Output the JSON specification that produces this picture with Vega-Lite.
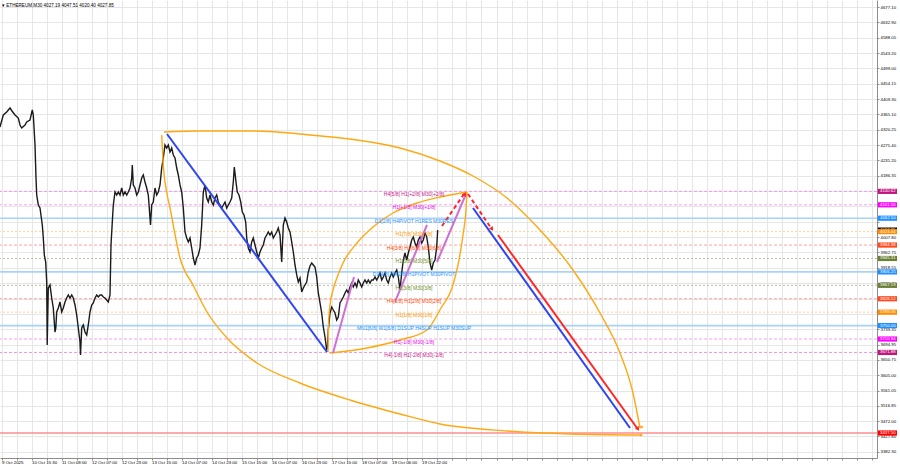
{
  "$schema": "https://vega.github.io/schema/vega-lite/v6.json",
  "width": 877,
  "height": 458,
  "autosize": {"type": "none"},
  "padding": {"left": 0, "top": 0, "right": 23, "bottom": 10},
  "background": "white",
  "config": {"view": {"stroke": null}, "font": "Liberation Sans"},
  "title": {"text": "▾ ETHEREUM,M30  4027.19 4047.51 4020.40 4027.85", "anchor": "start", "frame": "group", "orient": "top", "offset": -7.5, "baseline": "top", "fontSize": 4.6, "fontWeight": "normal", "font": "Liberation Sans", "color": "#000000", "dx": 2},
  "datasets": {
    "levels": [
      {"p": 4140.625, "g": "m2", "txt": "H4[5/8] H1[+2/8] M30[+2/8]"},
      {"p": 4101.5625, "g": "m1", "txt": "H1[+1/8] M30[+1/8]"},
      {"p": 4062.5, "g": "b", "txt": "D1[2/8] H4PIVOT H1RES M30RES"},
      {"p": 4023.4375, "g": "o", "txt": "H1[7/8] M30[7/8]"},
      {"p": 3984.375, "g": "s", "txt": "H4[3/8] H1[6/8] M30[6/8]"},
      {"p": 3945.3125, "g": "g", "txt": "H1[5/8] M30[5/8]"},
      {"p": 3906.25, "g": "b", "txt": "D1[4/8] H4[2/8] H1PIVOT M30PIVOT"},
      {"p": 3867.1875, "g": "g", "txt": "H1[3/8] M30[3/8]"},
      {"p": 3828.125, "g": "s", "txt": "H4[1/8] H1[2/8] M30[2/8]"},
      {"p": 3789.0625, "g": "o", "txt": "H1[1/8] M30[1/8]"},
      {"p": 3750, "g": "b", "txt": "MN1[6/8] W1[6/8] D1SUP H4SUP H1SUP M30SUP"},
      {"p": 3710.9375, "g": "m1", "txt": "H1[-1/8] M30[-1/8]"},
      {"p": 3671.875, "g": "m2", "txt": "H4[-1/8] H1[-2/8] M30[-2/8]"}
    ],
    "tags": [
      {"p": 4140.625, "lab": "4140.62", "g": "m2"},
      {"p": 4101.5625, "lab": "4101.56", "g": "m1"},
      {"p": 4062.5, "lab": "4062.50", "g": "b"},
      {"p": 4027.85, "lab": "4027.85", "g": "cur"},
      {"p": 4023.4375, "lab": "4023.44", "g": "o"},
      {"p": 3984.375, "lab": "3984.38", "g": "s"},
      {"p": 3945.3125, "lab": "3945.31", "g": "g"},
      {"p": 3906.25, "lab": "3906.25", "g": "b"},
      {"p": 3867.1875, "lab": "3867.19", "g": "g"},
      {"p": 3828.125, "lab": "3828.12", "g": "s"},
      {"p": 3789.0625, "lab": "3789.06", "g": "o"},
      {"p": 3750, "lab": "3750.00", "g": "b"},
      {"p": 3710.9375, "lab": "3710.94", "g": "m1"},
      {"p": 3671.875, "lab": "3671.88", "g": "m2"},
      {"p": 3437.5, "lab": "3437.50", "g": "t"}
    ],
    "price": [
      {"x":0,"p":4327.9},{"x":3.3,"p":4362.9},{"x":6.7,"p":4371.6},{"x":10,"p":4383.2},{"x":12,"p":4374.5},{"x":15,"p":4362.9},{"x":18.3,"p":4354.1},{"x":20,"p":4333.8},{"x":21.7,"p":4325.0},{"x":25,"p":4333.8},{"x":26.7,"p":4342.5},{"x":30,"p":4348.3},{"x":32.3,"p":4377.4},{"x":33.3,"p":4362.9},{"x":35,"p":4275.5},{"x":36,"p":4179.5},{"x":36.7,"p":4130.0},{"x":38.3,"p":4101.0},{"x":40,"p":4092.2},{"x":42.3,"p":4042.8},{"x":43.3,"p":4004.9},{"x":44.3,"p":3955.5},{"x":45.7,"p":3935.1},{"x":46.7,"p":3876.9},{"x":47.2,"p":3693.5},{"x":48.3,"p":3859.4},{"x":50,"p":3868.2},{"x":51.7,"p":3830.3},{"x":53.3,"p":3801.2},{"x":55,"p":3731.4},{"x":55.8,"p":3743.0},{"x":56.7,"p":3789.6},{"x":58.3,"p":3801.2},{"x":60,"p":3818.7},{"x":61.7,"p":3789.6},{"x":63.3,"p":3801.2},{"x":65,"p":3818.7},{"x":66.7,"p":3830.3},{"x":68.3,"p":3839.1},{"x":70,"p":3830.3},{"x":71.7,"p":3839.1},{"x":73.3,"p":3830.3},{"x":75,"p":3810.0},{"x":76.7,"p":3780.9},{"x":78.3,"p":3743.0},{"x":80,"p":3702.3},{"x":80.5,"p":3664.4},{"x":81.7,"p":3743.0},{"x":83.3,"p":3751.8},{"x":85,"p":3731.4},{"x":86.7,"p":3722.7},{"x":88.3,"p":3751.8},{"x":90,"p":3789.6},{"x":91.7,"p":3810.0},{"x":93.3,"p":3815.8},{"x":95,"p":3830.3},{"x":96.7,"p":3839.1},{"x":98.3,"p":3833.2},{"x":100,"p":3839.1},{"x":101.7,"p":3839.1},{"x":103.3,"p":3833.2},{"x":105,"p":3830.3},{"x":106.7,"p":3824.5},{"x":108.3,"p":3818.7},{"x":110,"p":3839.1},{"x":111,"p":3984.5},{"x":112.3,"p":4051.5},{"x":113.3,"p":4101.0},{"x":115,"p":4138.8},{"x":116.7,"p":4130.0},{"x":118.3,"p":4138.8},{"x":120,"p":4130.0},{"x":121.7,"p":4150.4},{"x":123.3,"p":4130.0},{"x":125,"p":4138.8},{"x":126.7,"p":4130.0},{"x":128.3,"p":4138.8},{"x":130,"p":4150.4},{"x":131.7,"p":4179.5},{"x":132.3,"p":4217.4},{"x":133.3,"p":4159.2},{"x":135,"p":4150.4},{"x":136.7,"p":4130.0},{"x":138.3,"p":4138.8},{"x":140,"p":4159.2},{"x":141.7,"p":4179.5},{"x":143.3,"p":4188.3},{"x":145,"p":4167.9},{"x":146.7,"p":4150.4},{"x":148.3,"p":4130.0},{"x":150,"p":4063.1},{"x":150.5,"p":4042.8},{"x":151.7,"p":4101.0},{"x":153.3,"p":4109.7},{"x":155,"p":4150.4},{"x":156.7,"p":4130.0},{"x":158.3,"p":4138.8},{"x":160,"p":4159.2},{"x":161.7,"p":4208.6},{"x":163.3,"p":4237.7},{"x":165,"p":4275.5},{"x":166.7,"p":4266.8},{"x":168.3,"p":4275.5},{"x":170,"p":4255.2},{"x":171.7,"p":4266.8},{"x":173.3,"p":4246.5},{"x":175,"p":4237.7},{"x":176.7,"p":4208.6},{"x":178.3,"p":4188.3},{"x":180,"p":4159.2},{"x":181.7,"p":4138.8},{"x":183.3,"p":4092.2},{"x":185,"p":4022.4},{"x":186.7,"p":4004.9},{"x":188.3,"p":3993.3},{"x":190,"p":4004.9},{"x":191.7,"p":3975.8},{"x":193.3,"p":3946.7},{"x":195,"p":3926.4},{"x":196.7,"p":3946.7},{"x":198.3,"p":3955.5},{"x":200,"p":3975.8},{"x":201.7,"p":4042.8},{"x":203.3,"p":4138.8},{"x":205,"p":4159.2},{"x":206.7,"p":4121.3},{"x":208.3,"p":4109.7},{"x":210,"p":4130.0},{"x":211.7,"p":4109.7},{"x":213.3,"p":4101.0},{"x":215,"p":4121.3},{"x":216.7,"p":4130.0},{"x":218.3,"p":4109.7},{"x":220,"p":4101.0},{"x":221.7,"p":4092.2},{"x":223.3,"p":4101.0},{"x":225,"p":4109.7},{"x":226.7,"p":4092.2},{"x":228.3,"p":4101.0},{"x":230,"p":4109.7},{"x":231.7,"p":4121.3},{"x":233.3,"p":4167.9},{"x":234.3,"p":4211.5},{"x":236,"p":4167.9},{"x":237.3,"p":4138.8},{"x":239,"p":4130.0},{"x":240.7,"p":4109.7},{"x":242.3,"p":4080.6},{"x":244,"p":4071.9},{"x":245.7,"p":4051.5},{"x":246.7,"p":4004.9},{"x":248.3,"p":3975.8},{"x":250,"p":3964.2},{"x":251.7,"p":3993.3},{"x":253.3,"p":4004.9},{"x":255,"p":3984.5},{"x":256.7,"p":3964.2},{"x":258.3,"p":3946.7},{"x":260,"p":3964.2},{"x":261.7,"p":3975.8},{"x":263.3,"p":3984.5},{"x":265,"p":4004.9},{"x":266.7,"p":4013.7},{"x":268.3,"p":4022.4},{"x":270,"p":4013.7},{"x":271.7,"p":4022.4},{"x":273.3,"p":4004.9},{"x":275,"p":4013.7},{"x":276.7,"p":4022.4},{"x":278.3,"p":4034.0},{"x":280,"p":4013.7},{"x":281.7,"p":3935.1},{"x":283.3,"p":4042.8},{"x":285,"p":4063.1},{"x":286.7,"p":4051.5},{"x":288.3,"p":4034.0},{"x":290,"p":4022.4},{"x":291.7,"p":3993.3},{"x":293.3,"p":3964.2},{"x":295,"p":3926.4},{"x":296.7,"p":3897.3},{"x":298.3,"p":3876.9},{"x":300,"p":3888.5},{"x":301.7,"p":3847.8},{"x":303.3,"p":3859.4},{"x":305,"p":3868.2},{"x":306.7,"p":3876.9},{"x":308.3,"p":3906.0},{"x":310,"p":3923.4},{"x":311.7,"p":3932.2},{"x":313.3,"p":3926.4},{"x":315,"p":3920.5},{"x":316.7,"p":3891.4},{"x":318.3,"p":3844.9},{"x":320,"p":3815.8},{"x":321.7,"p":3786.7},{"x":323.3,"p":3745.9},{"x":325,"p":3716.8},{"x":326.7,"p":3679.0},{"x":327.5,"p":3687.7},{"x":328.3,"p":3737.2},{"x":330,"p":3786.7},{"x":331.7,"p":3804.1},{"x":333.3,"p":3795.4},{"x":335,"p":3786.7},{"x":336.7,"p":3766.3},{"x":338.3,"p":3775.0},{"x":340,"p":3815.8},{"x":341.7,"p":3824.5},{"x":343.3,"p":3833.2},{"x":345,"p":3844.9},{"x":346.7,"p":3853.6},{"x":348.3,"p":3844.9},{"x":350,"p":3862.3},{"x":351.7,"p":3874.0},{"x":353.3,"p":3862.3},{"x":355,"p":3874.0},{"x":356.7,"p":3862.3},{"x":358.3,"p":3882.7},{"x":360,"p":3874.0},{"x":361.7,"p":3862.3},{"x":363.3,"p":3874.0},{"x":365,"p":3882.7},{"x":366.7,"p":3874.0},{"x":368.3,"p":3882.7},{"x":370,"p":3874.0},{"x":371.7,"p":3882.7},{"x":373.3,"p":3882.7},{"x":375,"p":3891.4},{"x":376.7,"p":3882.7},{"x":378.3,"p":3891.4},{"x":380,"p":3903.1},{"x":381.7,"p":3882.7},{"x":383.3,"p":3891.4},{"x":385,"p":3903.1},{"x":386.7,"p":3882.7},{"x":388.3,"p":3874.0},{"x":390,"p":3891.4},{"x":391.7,"p":3903.1},{"x":393.3,"p":3891.4},{"x":395,"p":3903.1},{"x":396.7,"p":3911.8},{"x":398.3,"p":3891.4},{"x":400,"p":3853.6},{"x":401.7,"p":3903.1},{"x":403.3,"p":3940.9},{"x":405,"p":3961.3},{"x":406.7,"p":3940.9},{"x":408.3,"p":3961.3},{"x":410,"p":3978.7},{"x":411.7,"p":3999.1},{"x":413.3,"p":4007.8},{"x":415,"p":3990.4},{"x":416.7,"p":3978.7},{"x":418.3,"p":3999.1},{"x":420,"p":4007.8},{"x":421.7,"p":3990.4},{"x":423.3,"p":3999.1},{"x":425,"p":4019.5},{"x":426.7,"p":4007.8},{"x":428.3,"p":3978.7},{"x":430,"p":3932.2},{"x":431.7,"p":3911.8},{"x":433.3,"p":3932.2},{"x":435,"p":3940.9},{"x":436.7,"p":3978.7},{"x":437.7,"p":4027.85}
    ],
    "arcs": [
      {"c":"A","x":164,"p":4313.4},{"c":"A","x":200,"p":4316.3},{"c":"A","x":250,"p":4316.3},{"c":"A","x":290,"p":4310.5},{"c":"A","x":310,"p":4304.7},{"c":"A","x":350,"p":4293.0},{"c":"A","x":400,"p":4266.8},{"c":"A","x":440,"p":4229.0},{"c":"A","x":473,"p":4185.3},{"c":"A","x":507,"p":4121.3},{"c":"A","x":540,"p":4028.2},{"c":"A","x":573,"p":3911.8},{"c":"A","x":600,"p":3786.7},{"c":"A","x":620,"p":3670.3},{"c":"A","x":633,"p":3553.9},{"c":"A","x":640,"p":3452.0},
      {"c":"B","x":161.7,"p":4304.7},{"c":"B","x":163.3,"p":4217.4},{"c":"B","x":166.7,"p":4138.8},{"c":"B","x":170,"p":4092.2},{"c":"B","x":180,"p":3946.7},{"c":"B","x":193,"p":3868.2},{"c":"B","x":207,"p":3789.6},{"c":"B","x":227,"p":3713.9},{"c":"B","x":257,"p":3641.2},{"c":"B","x":300,"p":3583.0},{"c":"B","x":350,"p":3533.5},{"c":"B","x":400,"p":3492.8},{"c":"B","x":440,"p":3463.7},{"c":"B","x":507,"p":3443.3},{"c":"B","x":570,"p":3434.6},{"c":"B","x":640,"p":3431.7},
      {"c":"C","x":328,"p":3673.2},{"c":"C","x":328.5,"p":3751.8},{"c":"C","x":330,"p":3810.0},{"c":"C","x":333,"p":3853.6},{"c":"C","x":338,"p":3897.3},{"c":"C","x":343,"p":3932.2},{"c":"C","x":357,"p":3990.4},{"c":"C","x":373,"p":4036.9},{"c":"C","x":393,"p":4077.7},{"c":"C","x":417,"p":4106.8},{"c":"C","x":440,"p":4124.2},{"c":"C","x":467,"p":4138.8},
      {"c":"D","x":330,"p":3670.3},{"c":"D","x":367,"p":3684.8},{"c":"D","x":400,"p":3708.1},{"c":"D","x":427,"p":3737.2},{"c":"D","x":441,"p":3801.2},{"c":"D","x":452,"p":3859.4},{"c":"D","x":458,"p":3926.4},{"c":"D","x":463,"p":4013.7},{"c":"D","x":466,"p":4086.4},{"c":"D","x":467,"p":4138.8}
    ],
    "dots": [
      {"x": 641.5, "p": 3454.9},
      {"x": 641, "p": 3431.7}
    ],
    "segs": [
      {"k":"blue","x":167,"p":4307.6,"x2":327,"p2":3673.2},
      {"k":"blue","x":473,"p":4092.2,"x2":630,"p2":3452.0},
      {"k":"red","x":498,"p":4013.7,"x2":637,"p2":3452.0},
      {"k":"reddash","x":442,"p":4039.8,"x2":464,"p2":4133.0},
      {"k":"reddash","x":468,"p":4133.0,"x2":491,"p2":4034.0},
      {"k":"violet","x":333,"p":3670.3,"x2":354,"p2":3891.4},
      {"k":"violet","x":395,"p":3818.7,"x2":427,"p2":4042.8},
      {"k":"violet","x":437,"p":3935.1,"x2":466,"p2":4133.0}
    ],
    "arrows": [
      {"dir":"down","x":638,"p":3449.1},
      {"dir":"down","x":492,"p":4031.1},
      {"dir":"up","x":465,"p":4133.0}
    ]
  },
  "layer": [
    {
      "data": {"name": "levels"},
      "transform": [{"filter": "datum.g != 'b'"}],
      "mark": {"type": "rule", "strokeWidth": 1},
      "encoding": {
        "y": {"field": "p", "type": "quantitative", "scale": {"domain": [3364.7, 4697.5], "nice": false, "zero": false}},
        "stroke": {"field": "g", "type": "nominal", "scale": {"domain": ["m2", "m1", "o", "s", "g"], "range": ["#ea9ae2", "#f3a3f0", "#ffcf99", "#f7a59c", "#b9bba2"]}, "legend": null},
        "strokeDash": {"field": "g", "type": "nominal", "scale": {"domain": ["m2", "m1", "o", "s", "g"], "range": [[3, 2], [3, 2], [2, 2], [3, 2], [2, 2]]}, "legend": null}
      }
    },
    {
      "data": {"name": "levels"},
      "transform": [{"filter": "datum.g == 'b'"}],
      "mark": {"type": "rule", "strokeWidth": 1.6, "color": "#a8d3f7"},
      "encoding": {
        "y": {"field": "p", "type": "quantitative", "scale": {"domain": [3364.7, 4697.5], "nice": false, "zero": false}}
      }
    },
    {
      "data": {"name": "tags"},
      "transform": [{"filter": "datum.g == 't'"}],
      "mark": {"type": "rule", "strokeWidth": 1.4, "color": "#ff8e8e"},
      "encoding": {
        "y": {"field": "p", "type": "quantitative", "scale": {"domain": [3364.7, 4697.5], "nice": false, "zero": false}}
      }
    },
    {
      "data": {"name": "price"},
      "mark": {"type": "line", "color": "#1a1a1a", "strokeWidth": 1.4},
      "encoding": {
        "x": {"field": "x", "type": "quantitative", "scale": {"domain": [0, 877], "nice": false, "zero": false},
          "axis": {"orient": "bottom", "title": null, "grid": true, "gridColor": "#e6e6e6", "gridWidth": 1, "domainColor": "#8c8c8c", "tickColor": "#8c8c8c", "tickSize": 2, "tickCount": 200, "labelFontSize": 4.4, "labelFont": "Liberation Sans", "labelColor": "#000000", "labelAlign": "left", "labelBaseline": "top", "labelPadding": 0.5, "labelFlush": false, "labelOverlap": false,
            "values": [1.5,16.5,31.5,46.5,61.5,76.5,91.5,106.5,121.5,136.5,151.5,166.5,181.5,196.5,211.5,226.5,241.5,256.5,271.5,286.5,301.5,316.5,331.5,346.5,361.5,376.5,391.5,406.5,421.5,436.5,451.5,466.5,481.5,496.5,511.5,526.5,541.5,556.5,571.5,586.5,601.5,616.5,631.5,646.5,661.5,676.5,691.5,706.5,721.5,736.5,751.5,766.5,781.5,796.5,811.5,826.5,841.5,856.5,871.5],
            "labelExpr": "datum.value < 440 && round((datum.value - 1.5) / 15) % 2 == 0 ? ['9 Oct 2025','10 Oct 15:30','11 Oct 08:00','12 Oct 07:00','12 Oct 23:00','13 Oct 15:00','14 Oct 07:00','14 Oct 23:00','15 Oct 15:00','16 Oct 07:00','16 Oct 23:00','17 Oct 15:00','18 Oct 07:00','19 Oct 06:00','19 Oct 22:00'][round((datum.value - 1.5) / 30)] : ''"}},
        "y": {"field": "p", "type": "quantitative", "scale": {"domain": [3364.7, 4697.5], "nice": false, "zero": false},
          "axis": {"orient": "right", "title": null, "grid": true, "gridColor": "#e6e6e6", "gridWidth": 1, "domainColor": "#8c8c8c", "tickColor": "#8c8c8c", "tickSize": 2, "tickCount": 200, "labelFontSize": 4.3, "labelFont": "Liberation Sans", "labelColor": "#000000", "labelAlign": "left", "labelBaseline": "middle", "labelPadding": 1, "labelFlush": false, "labelOverlap": false, "format": ".2f",
            "labelExpr": "indexof([4141.5, 4096.65, 4052.45, 3828.85, 3784], datum.value) >= 0 ? '' : datum.label",
            "values": [4677.10,4632.90,4588.05,4543.20,4499.00,4454.15,4409.30,4365.10,4320.25,4275.40,4231.20,4186.35,4141.50,4096.65,4052.45,4007.80,3962.75,3918.55,3873.70,3828.85,3784.00,3739.35,3694.95,3650.75,3605.00,3561.05,3516.85,3472.00,3427.80,3382.30]}}
      }
    },
    {
      "data": {"name": "arcs"},
      "mark": {"type": "line", "color": "#ffa812", "strokeWidth": 1.4, "interpolate": "monotone"},
      "encoding": {
        "x": {"field": "x", "type": "quantitative", "scale": {"domain": [0, 877], "nice": false, "zero": false}},
        "y": {"field": "p", "type": "quantitative", "scale": {"domain": [3364.7, 4697.5], "nice": false, "zero": false}},
        "detail": {"field": "c", "type": "nominal"}
      }
    },
    {
      "data": {"name": "dots"},
      "mark": {"type": "square", "color": "#ffa812", "size": 6, "opacity": 1},
      "encoding": {
        "x": {"field": "x", "type": "quantitative", "scale": {"domain": [0, 877], "nice": false, "zero": false}},
        "y": {"field": "p", "type": "quantitative", "scale": {"domain": [3364.7, 4697.5], "nice": false, "zero": false}}
      }
    },
    {
      "data": {"name": "segs"},
      "transform": [{"filter": "datum.k == 'blue'"}],
      "mark": {"type": "rule", "color": "#2d45ee", "strokeWidth": 2},
      "encoding": {
        "x": {"field": "x", "type": "quantitative", "scale": {"domain": [0, 877], "nice": false, "zero": false}},
        "x2": {"field": "x2"},
        "y": {"field": "p", "type": "quantitative", "scale": {"domain": [3364.7, 4697.5], "nice": false, "zero": false}},
        "y2": {"field": "p2"}
      }
    },
    {
      "data": {"name": "segs"},
      "transform": [{"filter": "datum.k == 'violet'"}],
      "mark": {"type": "rule", "color": "#cf6fd3", "strokeWidth": 2},
      "encoding": {
        "x": {"field": "x", "type": "quantitative", "scale": {"domain": [0, 877], "nice": false, "zero": false}},
        "x2": {"field": "x2"},
        "y": {"field": "p", "type": "quantitative", "scale": {"domain": [3364.7, 4697.5], "nice": false, "zero": false}},
        "y2": {"field": "p2"}
      }
    },
    {
      "data": {"name": "segs"},
      "transform": [{"filter": "datum.k == 'red'"}],
      "mark": {"type": "rule", "color": "#ff2626", "strokeWidth": 2},
      "encoding": {
        "x": {"field": "x", "type": "quantitative", "scale": {"domain": [0, 877], "nice": false, "zero": false}},
        "x2": {"field": "x2"},
        "y": {"field": "p", "type": "quantitative", "scale": {"domain": [3364.7, 4697.5], "nice": false, "zero": false}},
        "y2": {"field": "p2"}
      }
    },
    {
      "data": {"name": "segs"},
      "transform": [{"filter": "datum.k == 'reddash'"}],
      "mark": {"type": "rule", "color": "#ff2626", "strokeWidth": 2, "strokeDash": [4, 3]},
      "encoding": {
        "x": {"field": "x", "type": "quantitative", "scale": {"domain": [0, 877], "nice": false, "zero": false}},
        "x2": {"field": "x2"},
        "y": {"field": "p", "type": "quantitative", "scale": {"domain": [3364.7, 4697.5], "nice": false, "zero": false}},
        "y2": {"field": "p2"}
      }
    },
    {
      "data": {"name": "arrows"},
      "transform": [{"filter": "datum.dir == 'down'"}],
      "mark": {"type": "point", "shape": "triangle-up", "filled": true, "color": "#ff2626", "size": 22, "angle": 145, "opacity": 1},
      "encoding": {
        "x": {"field": "x", "type": "quantitative", "scale": {"domain": [0, 877], "nice": false, "zero": false}},
        "y": {"field": "p", "type": "quantitative", "scale": {"domain": [3364.7, 4697.5], "nice": false, "zero": false}}
      }
    },
    {
      "data": {"name": "arrows"},
      "transform": [{"filter": "datum.dir == 'up'"}],
      "mark": {"type": "point", "shape": "triangle-up", "filled": true, "color": "#ff2626", "size": 22, "angle": 35, "opacity": 1},
      "encoding": {
        "x": {"field": "x", "type": "quantitative", "scale": {"domain": [0, 877], "nice": false, "zero": false}},
        "y": {"field": "p", "type": "quantitative", "scale": {"domain": [3364.7, 4697.5], "nice": false, "zero": false}}
      }
    },
    {
      "data": {"name": "levels"},
      "mark": {"type": "text", "fontSize": 5, "font": "Liberation Sans", "align": "center", "baseline": "middle", "dy": 2.5},
      "encoding": {
        "x": {"datum": 414, "type": "quantitative", "scale": {"domain": [0, 877], "nice": false, "zero": false}},
        "y": {"field": "p", "type": "quantitative", "scale": {"domain": [3364.7, 4697.5], "nice": false, "zero": false}},
        "text": {"field": "txt"},
        "color": {"field": "g", "type": "nominal", "scale": {"domain": ["m2", "m1", "b", "o", "s", "g"], "range": ["#c71585", "#ee00ee", "#1e90ff", "#ff9500", "#ff4500", "#6b8e23"]}, "legend": null}
      }
    },
    {
      "data": {"name": "tags"},
      "transform": [{"filter": "datum.g == 'cur'"}],
      "mark": {"type": "rule", "strokeWidth": 5.2, "color": "#000000"},
      "encoding": {
        "x": {"value": {"expr": "width + 1"}},
        "x2": {"value": {"expr": "width + 20"}},
        "y": {"field": "p", "type": "quantitative", "scale": {"domain": [3364.7, 4697.5], "nice": false, "zero": false}}
      }
    },
    {
      "data": {"name": "tags"},
      "transform": [{"filter": "datum.g == 'cur'"}],
      "mark": {"type": "text", "fontSize": 4.3, "font": "Liberation Sans", "align": "left", "baseline": "middle", "color": "#ffffff"},
      "encoding": {
        "x": {"value": {"expr": "width + 3"}},
        "y": {"field": "p", "type": "quantitative", "scale": {"domain": [3364.7, 4697.5], "nice": false, "zero": false}},
        "text": {"field": "lab"}
      }
    },
    {
      "data": {"name": "tags"},
      "transform": [{"filter": "datum.g != 'cur'"}],
      "mark": {"type": "rule", "strokeWidth": 5.2},
      "encoding": {
        "x": {"value": {"expr": "width + 1"}},
        "x2": {"value": {"expr": "width + 20"}},
        "y": {"field": "p", "type": "quantitative", "scale": {"domain": [3364.7, 4697.5], "nice": false, "zero": false}},
        "stroke": {"field": "g", "type": "nominal", "scale": {"domain": ["m2", "m1", "b", "o", "s", "g", "t"], "range": ["#c0177f", "#ff00ff", "#1e90ff", "#ff8c00", "#ff4a1c", "#6b8035", "#ff0000"]}, "legend": null}
      }
    },
    {
      "data": {"name": "tags"},
      "transform": [{"filter": "datum.g != 'cur'"}],
      "mark": {"type": "text", "fontSize": 4.3, "font": "Liberation Sans", "align": "left", "baseline": "middle", "color": "#ffffff"},
      "encoding": {
        "x": {"value": {"expr": "width + 3"}},
        "y": {"field": "p", "type": "quantitative", "scale": {"domain": [3364.7, 4697.5], "nice": false, "zero": false}},
        "text": {"field": "lab"}
      }
    }
  ],
  "resolve": {"scale": {"color": "independent", "stroke": "independent", "strokeDash": "independent"}}
}
